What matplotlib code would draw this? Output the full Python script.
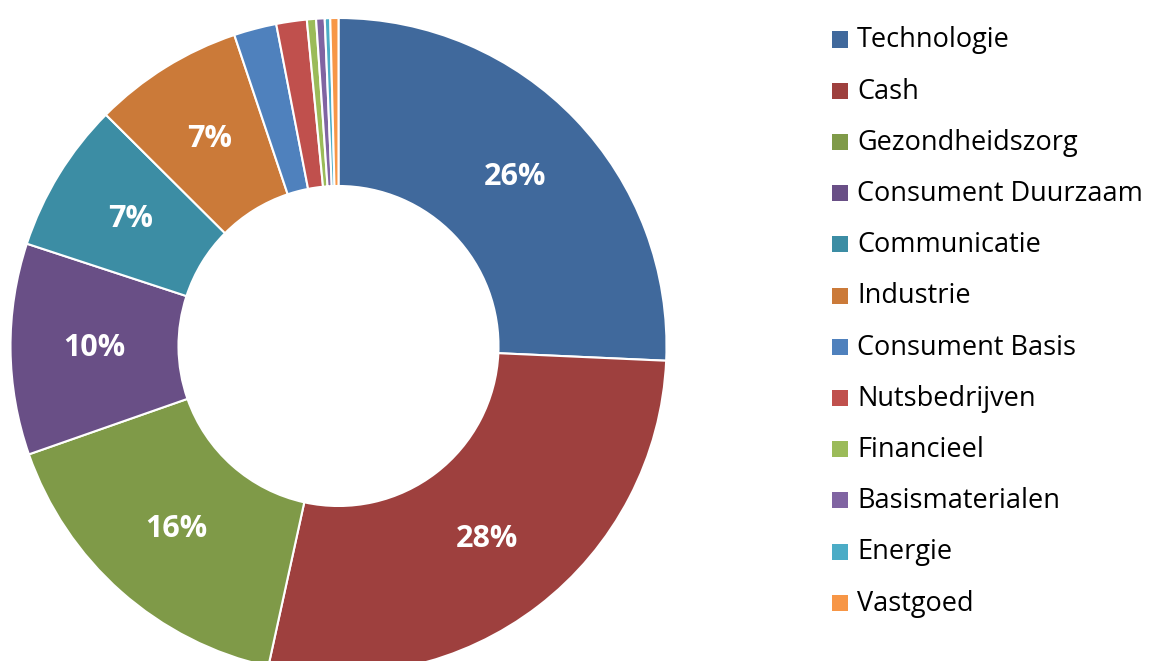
import matplotlib.pyplot as plt
from matplotlib.patches import Rectangle

sectoren = ['Technologie', 'Cash', 'Gezondheidszorg', 'Consument Duurzaam', 'Communicatie',
            'Industrie', 'Consument Basis', 'Nutsbedrijven', 'Financieel', 'Basismaterialen',
            'Energie', 'Vastgoed']
aandelen = [25.7, 27.7, 16.2, 10.4, 7.4, 7.4, 2.1, 1.5, 0.45, 0.42, 0.27, 0.4]
kleuren = ['#40699C', '#9E403E', '#7F9A48', '#694F86', '#3C8DA4', '#CB7A39',
           '#4F81BD', '#C0504D', '#9BBB59', '#8064A2', '#4BACC6', '#F79646']

plt.rcParams['font.family'] = ['Open Sans', 'DejaVu Sans']

fig = plt.figure(figsize=(11.49, 6.61), dpi=100)
W, H = 1149, 661
cx, cy, r = 338.5, 346, 328
ax = fig.add_axes([(cx - r) / W, (H - cy - r) / H, 2 * r / W, 2 * r / H])

ax.pie(aandelen, colors=kleuren, startangle=90, counterclock=False, radius=1,
       wedgeprops=dict(width=1 - 160 / 328, edgecolor='white', linewidth=1.5),
       autopct=lambda p: f'{p:.0f}%' if p >= 5 else '', pctdistance=(1 + 160 / 328) / 2,
       textprops=dict(color='white', fontsize=22, fontweight='bold'))
ax.set_xlim(-1, 1); ax.set_ylim(-1, 1); ax.set_aspect('equal'); ax.axis('off')

# legenda
y0, stap = 40.5, 51.2
for i, (naam, kleur) in enumerate(zip(sectoren, kleuren)):
    y = y0 + i * stap
    fig.add_artist(Rectangle((832 / W, 1 - (y + 7) / H), 16 / W, 16 / H, facecolor=kleur,
                             edgecolor='none', transform=fig.transFigure))
    fig.text(857 / W, 1 - y / H, naam, fontsize=19.5, va='center', ha='left', color='black')

fig.savefig('out.png', dpi=100)
